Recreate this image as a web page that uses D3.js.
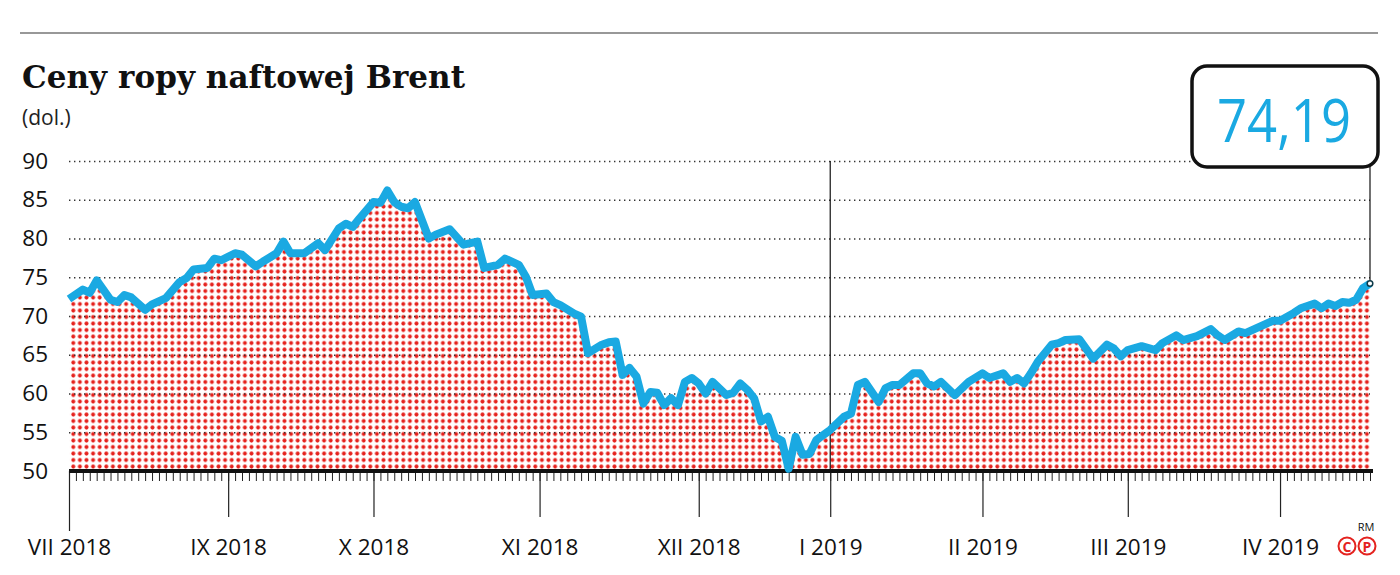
<!DOCTYPE html>
<html>
<head>
<meta charset="utf-8">
<script src="https://cdn.jsdelivr.net/npm/d3@7"></script>
<style>
  body { margin: 0; background: #fff; }
  svg { display: block; }
</style>
</head>
<body>
<div id="chart"></div>
<script>
// Brent oil price, trading-day index -> price (USD)
let tradingDay = [0, 2, 3, 4, 6, 7, 8, 9, 11, 12, 14, 16, 17, 18, 20, 21, 22, 24, 25, 27, 28, 30, 31, 32, 34, 36, 37, 39, 40, 41, 42, 44, 45, 46,
  47, 48, 49, 50, 52, 53, 55, 57, 59, 60, 62, 63, 65, 66, 67, 69, 70, 71, 73, 74, 75, 77, 78, 79, 80, 81, 82, 83, 84, 85, 86, 87, 88, 89,
  90, 91, 92, 93, 95, 96, 97, 98, 99, 100, 101, 102, 103, 104, 105, 106, 107, 108, 110, 112, 113, 114, 115, 117, 118, 119, 120, 122, 123,
  124, 125, 126, 128, 130, 132, 133, 135, 136, 137, 138, 139, 140, 142, 143, 144, 146, 148, 150, 151, 152, 153, 155, 157, 158, 160, 161,
  163, 165, 166, 167, 169, 170, 172, 174, 175, 177, 178, 180, 181, 182, 183, 184, 185, 186, 187, 188];
let brent = [72.2, 73.4, 73.0, 74.6, 72.1, 71.8, 72.7, 72.4, 70.8, 71.5, 72.3, 74.4, 74.9, 76.0, 76.2, 77.4, 77.2, 78.1, 77.9, 76.4, 77.0, 78.1, 79.6, 78.1, 78.1, 79.4, 78.5, 81.3, 81.9, 81.5, 82.6, 84.7, 84.6, 86.2,
  84.7, 84.1, 83.9, 84.7, 80.0, 80.5, 81.2, 79.2, 79.6, 76.2, 76.6, 77.4, 76.6, 75.1, 72.7, 72.9, 71.8, 71.4, 70.3, 69.9, 65.2, 66.3, 66.6, 66.7, 62.4, 63.3, 62.2, 58.7, 60.2, 60.1, 58.5, 59.4, 58.5, 61.5,
  62.0, 61.3, 60.0, 61.5, 59.8, 60.1, 61.3, 60.5, 59.4, 56.4, 57.0, 54.4, 53.9, 50.3, 54.4, 52.1, 52.2, 54.0, 55.3, 57.0, 57.4, 61.1, 61.5, 58.9, 60.7, 61.1, 61.1, 62.6, 62.6,
  61.3, 60.9, 61.5, 59.8, 61.5, 62.6, 62.0, 62.6, 61.5, 62.0, 61.3, 62.6, 64.1, 66.3, 66.5, 66.9, 67.0, 64.5, 66.3, 65.8, 64.8, 65.6, 66.1, 65.6, 66.5, 67.5, 66.9,
  67.4, 68.3, 67.5, 66.9, 68.0, 67.8, 68.6, 69.4, 69.4, 70.4, 71.0, 71.6, 71.0, 71.6, 71.3, 71.8, 71.7, 72.1, 73.6, 74.19];
let lastDay = 188;
let monthDays = [0, 23, 44, 68, 91, 110, 132, 153, 175];
let monthLabels = ["VII 2018", "IX 2018", "X 2018", "XI 2018", "XII 2018", "I 2019", "II 2019", "III 2019", "IV 2019"];
let yTicks = [50, 55, 60, 65, 70, 75, 80, 85, 90];
let lastValueLabel = "74,19";

let data = tradingDay.map((d, i) => ({day: d, price: brent[i]}));

const W = 1400, H = 575;
const plotL = 69, plotR = 1370, plotT = 161, plotB = 471;
const sans = "'Open Sans', sans-serif";

const svg = d3.select("#chart").append("svg")
  .attr("width", W).attr("height", H);

const x = d3.scaleLinear().domain([0, lastDay]).range([plotL, plotR]);
const y = d3.scaleLinear().domain([50, 90]).range([plotB, plotT]);

// dot pattern for the area
const defs = svg.append("defs");
defs.append("pattern")
  .attr("id", "dots")
  .attr("patternUnits", "userSpaceOnUse")
  .attr("x", 70).attr("y", 463.3)
  .attr("width", 6.6).attr("height", 6.5)
  .append("circle")
  .attr("cx", 3.3).attr("cy", 3.25).attr("r", 2.0)
  .attr("fill", "#e5221d");

// top rule
svg.append("line")
  .attr("x1", 20).attr("x2", 1378).attr("y1", 33).attr("y2", 33)
  .attr("stroke", "#333").attr("stroke-width", 1.2);

// title
svg.append("text")
  .attr("x", 22).attr("y", 88)
  .style("font-family", "'DejaVu Serif', serif")
  .style("font-weight", "bold")
  .style("font-size", "31px")
  .attr("fill", "#111")
  .attr("textLength", 443)
  .text("Ceny ropy naftowej Brent");

svg.append("text")
  .attr("x", 22).attr("y", 125)
  .style("font-family", sans)
  .style("font-size", "21px")
  .attr("fill", "#222")
  .text("(dol.)");

// area
const area = d3.area()
  .x(d => x(d.day))
  .y0(y(50))
  .y1(d => y(d.price));

svg.append("path")
  .datum(data)
  .attr("d", area)
  .attr("fill", "url(#dots)");

// gridlines
svg.append("g")
  .attr("transform", `translate(${plotL},0)`)
  .call(d3.axisLeft(y).tickValues(yTicks.slice(1)).tickSize(-(plotR - plotL)).tickFormat(""))
  .call(g => g.select(".domain").remove())
  .call(g => g.selectAll(".tick line")
    .attr("stroke", "#333")
    .attr("stroke-width", 1.4)
    .attr("stroke-dasharray", "1.4,3.6"));

// y labels
svg.append("g")
  .attr("transform", `translate(${plotL},0)`)
  .call(d3.axisLeft(y).tickValues(yTicks).tickSize(0).tickPadding(21))
  .call(g => g.select(".domain").remove())
  .call(g => g.selectAll("text")
    .style("font-family", sans)
    .style("font-size", "22.5px")
    .attr("fill", "#111"));

// line at I 2019
svg.append("line")
  .attr("x1", x(monthDays[5])).attr("x2", x(monthDays[5]))
  .attr("y1", plotT).attr("y2", plotB)
  .attr("stroke", "#111").attr("stroke-width", 1.2);

// minor ticks
svg.append("g")
  .attr("transform", `translate(0,${plotB})`)
  .call(d3.axisBottom(x).tickValues(d3.range(0, lastDay + 1)).tickSize(10).tickFormat(""))
  .call(g => g.select(".domain").remove())
  .call(g => g.selectAll(".tick line").attr("stroke", "#222").attr("stroke-width", 1));

// month ticks and labels
svg.append("g")
  .attr("transform", `translate(0,${plotB})`)
  .call(d3.axisBottom(x).tickValues(monthDays).tickSize(46).tickPadding(22)
    .tickFormat((d, i) => monthLabels[i]))
  .call(g => g.select(".domain").remove())
  .call(g => g.selectAll(".tick line").attr("stroke", "#222").attr("stroke-width", 1.2)
    .attr("y2", (d, i) => i === 0 ? 60 : 46))
  .call(g => g.selectAll("text")
    .style("font-family", sans)
    .style("font-size", "22.5px")
    .attr("fill", "#111"));

// baseline
svg.append("line")
  .attr("x1", plotL).attr("x2", plotR + 3).attr("y1", plotB).attr("y2", plotB)
  .attr("stroke", "#111").attr("stroke-width", 4);

// price line
const line = d3.line()
  .x(d => x(d.day))
  .y(d => y(d.price));

svg.append("path")
  .datum(data)
  .attr("d", line)
  .attr("fill", "none")
  .attr("stroke", "#1aa9e2")
  .attr("stroke-width", 8)
  .attr("stroke-linejoin", "round");

// callout box
const last = data[data.length - 1];
svg.append("line")
  .attr("x1", x(last.day)).attr("x2", x(last.day))
  .attr("y1", y(last.price)).attr("y2", 160)
  .attr("stroke", "#111").attr("stroke-width", 1.2);

svg.append("rect")
  .attr("x", 1192).attr("y", 66)
  .attr("width", 186).attr("height", 101)
  .attr("rx", 15)
  .attr("fill", "#fff")
  .attr("stroke", "#111")
  .attr("stroke-width", 3.5);

svg.append("text")
  .attr("x", 1217).attr("y", 142)
  .style("font-family", sans)
  .style("font-size", "61px")
  .attr("fill", "#1aa9e2")
  .attr("textLength", 134)
  .attr("lengthAdjust", "spacingAndGlyphs")
  .text(lastValueLabel);

svg.append("circle")
  .attr("cx", x(last.day)).attr("cy", y(last.price))
  .attr("r", 2.8)
  .attr("fill", "#fff")
  .attr("stroke", "#0d3b4a")
  .attr("stroke-width", 1.5);

// signature
svg.append("text")
  .attr("x", 1366).attr("y", 531)
  .attr("text-anchor", "middle")
  .style("font-family", sans)
  .style("font-size", "11px")
  .attr("fill", "#111")
  .text("RM");

[["C", 1347], ["P", 1367]].forEach(([t, cx]) => {
  svg.append("circle")
    .attr("cx", cx).attr("cy", 546).attr("r", 8.5)
    .attr("fill", "none").attr("stroke", "#e4231f").attr("stroke-width", 2);
  svg.append("text")
    .attr("x", cx).attr("y", 551.5)
    .attr("text-anchor", "middle")
    .style("font-family", sans)
    .style("font-weight", "bold")
    .style("font-size", "14px")
    .attr("fill", "#e4231f")
    .text(t);
});
</script>
</body>
</html>
